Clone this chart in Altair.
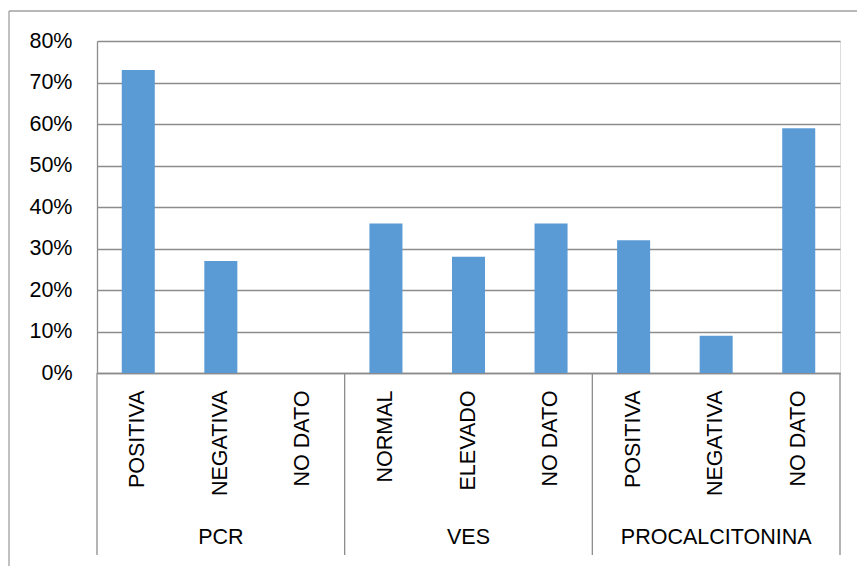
import altair as alt
import pandas as pd

groups = ["PCR", "PCR", "PCR", "VES", "VES", "VES",
          "PROCALCITONINA", "PROCALCITONINA", "PROCALCITONINA"]
subcats = ["POSITIVA", "NEGATIVA", "NO DATO", "NORMAL", "ELEVADO", "NO DATO",
           "POSITIVA", "NEGATIVA", "NO DATO"]
values = [0.73, 0.27, 0.0, 0.36, 0.28, 0.36, 0.32, 0.09, 0.59]
y_ticks = [0, 0.1, 0.2, 0.3, 0.4, 0.5, 0.6, 0.7, 0.8]

keys = [g + "|" + s for g, s in zip(groups, subcats)]
df = pd.DataFrame({"key": keys, "grp": groups, "sub": subcats, "value": values})

group_names = ["PCR", "VES", "PROCALCITONINA"]
first_keys = [keys[groups.index(g)] for g in group_names]
mid_keys = [keys[groups.index(g) + 1] for g in group_names]
sep_df = pd.DataFrame({"key": first_keys})
end_df = pd.DataFrame({"key": [keys[-1]]})
grp_df = pd.DataFrame({"key": mid_keys, "grp": group_names})

FONT = "Liberation Sans"
GRAY = "#8c8c8c"
FS = 21.5
xscale = alt.Scale(domain=keys, paddingInner=0, paddingOuter=0)
xaxis = alt.Axis(title=None, labelAngle=270, ticks=False, labelPadding=17,
                 labelExpr="split(datum.label,'|')[1]",
                 labelFont=FONT, labelFontSize=FS, labelColor="#000000",
                 labelAlign="right", labelBaseline="middle",
                 domainColor=GRAY, domainWidth=1.3, labelLimit=300, grid=False)

bars = alt.Chart(df).mark_bar(width={"band": 0.4}, color="#5B9BD5").encode(
    x=alt.X("key:N", scale=xscale, axis=xaxis),
    y=alt.Y("value:Q", scale=alt.Scale(domain=[0, 0.8]),
            axis=alt.Axis(title=None, values=y_ticks, format=".0%", ticks=False,
                          labelPadding=25, labelFont=FONT, labelFontSize=FS,
                          labelColor="#000000", domainColor=GRAY, domainWidth=1.3,
                          gridColor=GRAY, gridWidth=1.3)),
)

seps = alt.Chart(sep_df).mark_rule(color=GRAY, strokeWidth=1.3).encode(
    x=alt.X("key:N", scale=xscale, axis=xaxis, bandPosition=0),
    y=alt.value(332), y2=alt.value(514),
)
end_sep = alt.Chart(end_df).mark_rule(color=GRAY, strokeWidth=1.3).encode(
    x=alt.X("key:N", scale=xscale, axis=xaxis, bandPosition=1),
    y=alt.value(332), y2=alt.value(514),
)
grp_labels = alt.Chart(grp_df).mark_text(font=FONT, fontSize=FS, color="#000000",
                                         baseline="middle").encode(
    x=alt.X("key:N", scale=xscale, axis=xaxis),
    y=alt.value(497),
    text="grp:N",
)

one = pd.DataFrame({"a": [0]})
border_left = alt.Chart(one).mark_rule(color="#a0a0a0", strokeWidth=1.3).encode(
    x=alt.value(-88), y=alt.value(-30), y2=alt.value(540))
border_top = alt.Chart(one).mark_rule(color="#a0a0a0", strokeWidth=1.3).encode(
    x=alt.value(-88), x2=alt.value(780), y=alt.value(-30))

chart = alt.layer(border_left, border_top, bars, seps, end_sep, grp_labels).properties(
    width=743, height=332,
    autosize=alt.AutoSizeParams(type="none"),
    padding={"left": 97, "top": 41, "right": 17, "bottom": 193},
).configure_view(stroke=None).configure(font=FONT)

chart.save("out.html", embed_options={"renderer": "svg", "actions": False})
